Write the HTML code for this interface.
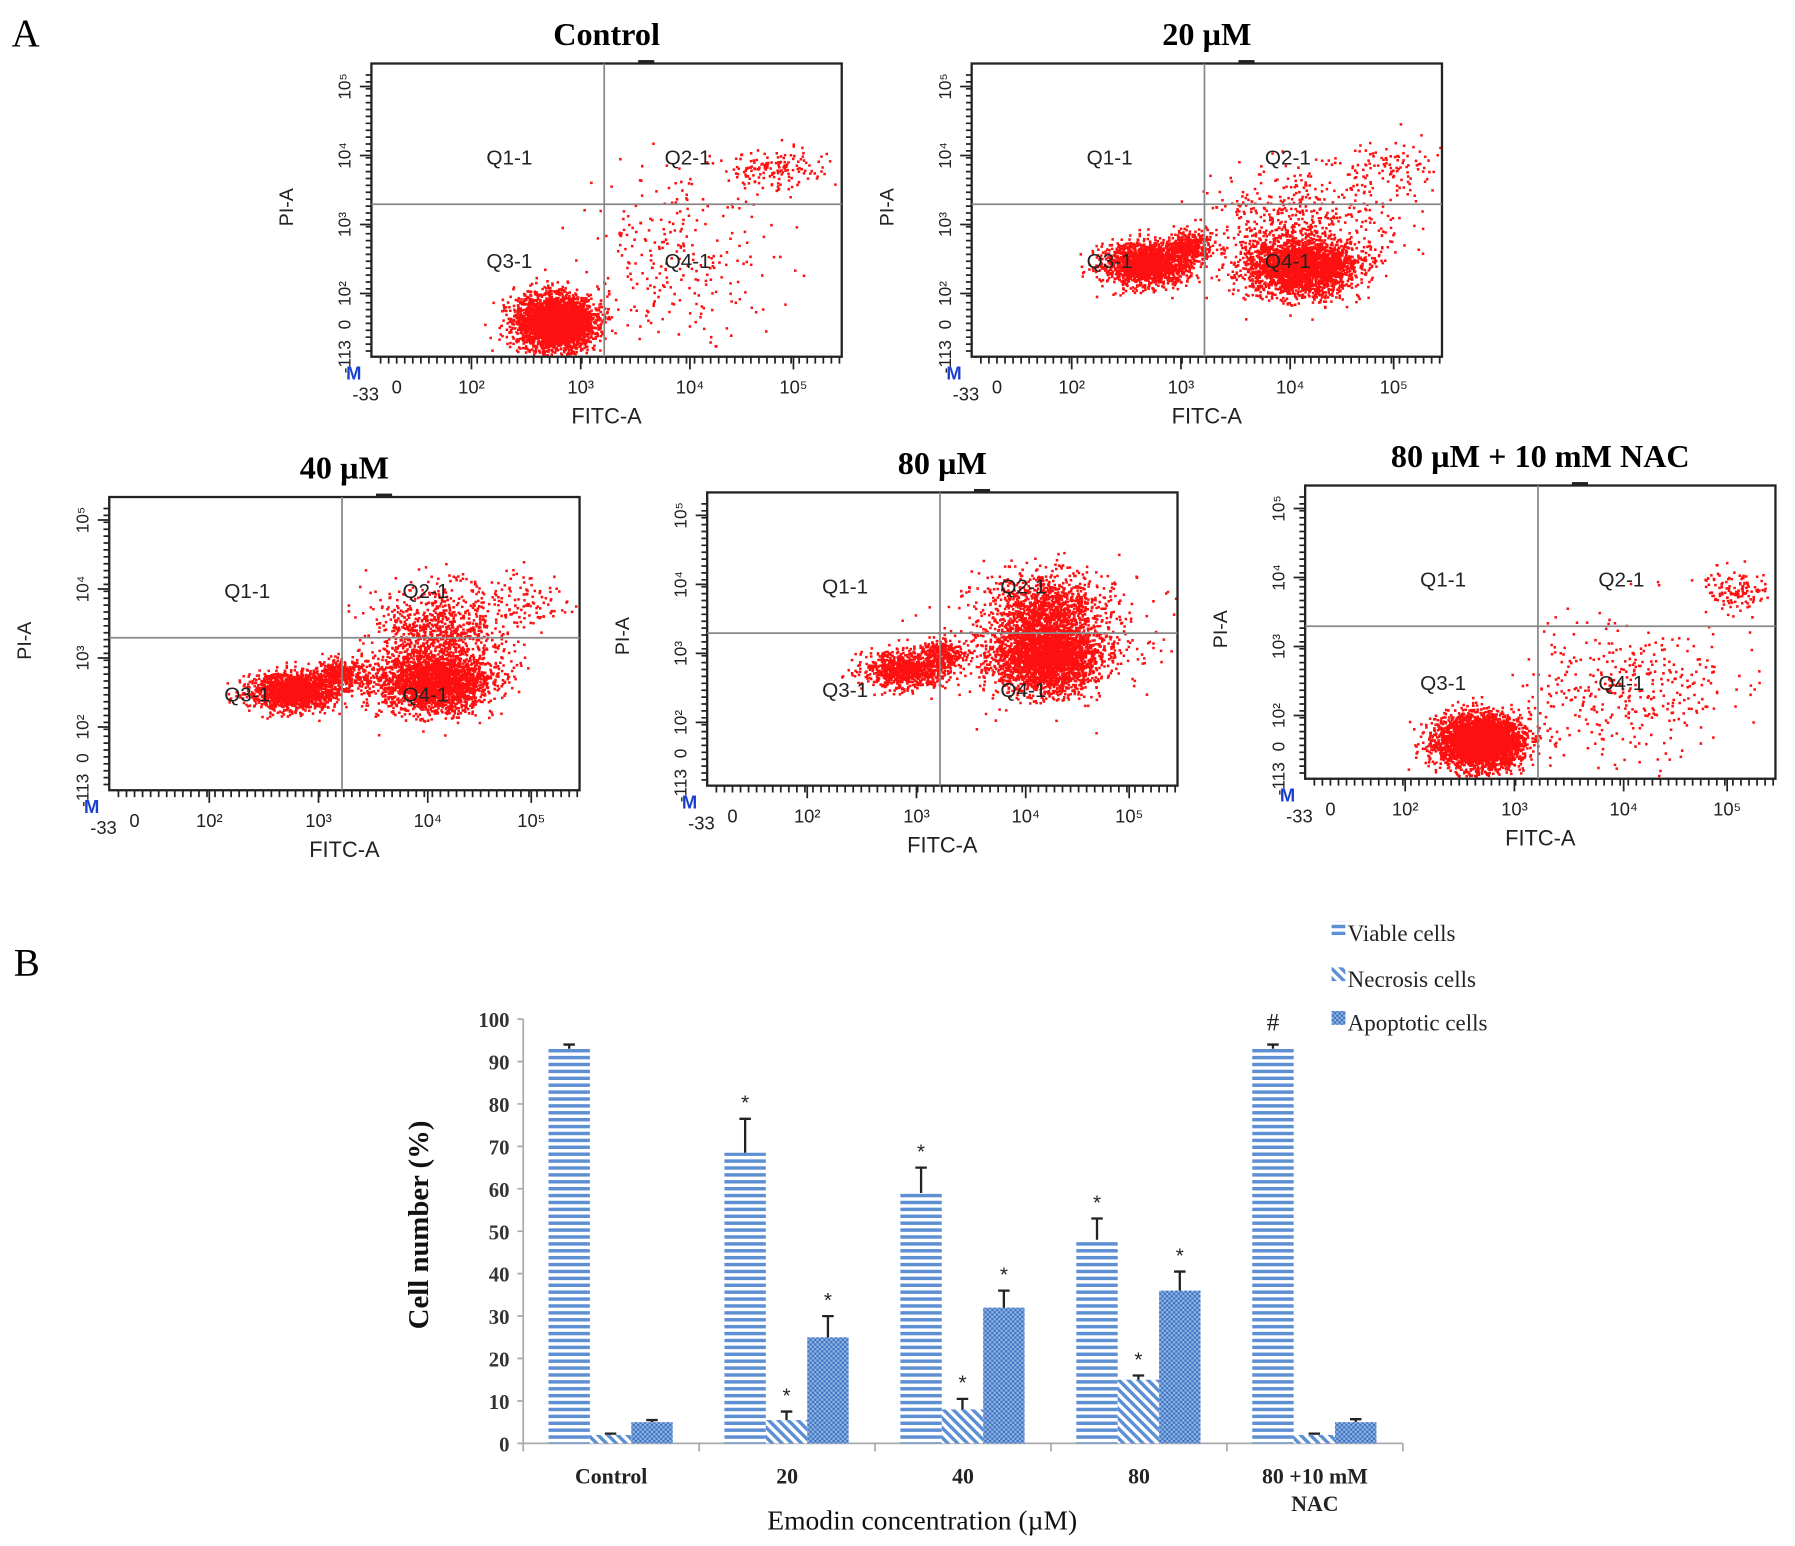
<!DOCTYPE html>
<html><head><meta charset="utf-8"><style>
html,body{margin:0;padding:0;background:#fff}
svg{display:block}
</style></head><body>
<svg id="fig" width="1795" height="1546" viewBox="0 0 1561 1344" xmlns="http://www.w3.org/2000/svg">
<defs>
<pattern id="pH" width="6" height="6" patternUnits="userSpaceOnUse"><rect width="6" height="6" fill="#fff"/><rect width="6" height="3" fill="#5d8fd3"/></pattern>
<pattern id="pD" width="6" height="6" patternUnits="userSpaceOnUse" patternTransform="rotate(-45)"><rect width="6" height="6" fill="#fff"/><rect width="3" height="6" fill="#5d8fd3"/></pattern>
<pattern id="pX" width="4" height="4" patternUnits="userSpaceOnUse"><rect width="4" height="4" fill="#8fb3e3"/><rect width="2" height="2" fill="#3f74c2"/><rect x="2" y="2" width="2" height="2" fill="#3f74c2"/></pattern>
</defs>
<g id="flow"></g>
<g id="bars"></g>
<text x="10" y="40" font-family="Liberation Serif" font-size="34">A</text>
<text x="12" y="848" font-family="Liberation Serif" font-size="34">B</text>
</svg>
<script>
// ---- bar chart data ----
const categories = ["Control","20","40","80","80 +10 mM|NAC"];
const viable = [93, 68.5, 59, 48, 93];
const viableErr = [94, 76.5, 65, 53, 94];
const necrosis = [2, 5.5, 8, 15, 2];
const necrosisErr = [2.3, 7.5, 10.5, 16, 2.3];
const apoptotic = [5, 25, 32, 36, 5];
const apoptoticErr = [5.5, 30, 36, 40.5, 5.7];
const yTicks = [0,10,20,30,40,50,60,70,80,90,100];
const starsViable = [false,true,true,true,false];
const starsOther = [false,true,true,true,false];

// ---- flow panels (cluster parameters) ----
const panelTitles = ["Control","20 µM","40 µM","80 µM","80 µM + 10 mM NAC"];
const panelBoxes = [[323,55],[845,55],[95,432],[615,428],[1135,422]];
const panelClusters = [
 [[0.39,0.88,0.04,0.045,3500],[0.66,0.65,0.1,0.14,260],[0.86,0.36,0.05,0.035,150]],
 [[0.37,0.68,0.045,0.035,1800],[0.46,0.62,0.025,0.025,400],[0.7,0.69,0.06,0.05,2500],[0.7,0.52,0.1,0.08,450],[0.9,0.35,0.05,0.05,100]],
 [[0.39,0.66,0.045,0.03,1700],[0.49,0.6,0.03,0.025,400],[0.69,0.63,0.06,0.05,2300],[0.7,0.46,0.07,0.08,900],[0.88,0.35,0.05,0.05,100]],
 [[0.42,0.6,0.045,0.03,900],[0.5,0.55,0.025,0.025,300],[0.72,0.56,0.055,0.06,2600],[0.72,0.39,0.06,0.06,1000],[0.72,0.5,0.12,0.1,400]],
 [[0.37,0.87,0.045,0.045,3500],[0.68,0.7,0.11,0.12,380],[0.92,0.35,0.035,0.035,130]]
];

const NS="http://www.w3.org/2000/svg";
function mk(tag, attrs, parent){const e=document.createElementNS(NS,tag);for(const k in attrs)e.setAttribute(k,attrs[k]);parent.appendChild(e);return e;}
let seed=12345;function rnd(){seed=(seed*1103515245+12345)%2147483648;return seed/2147483648;}
function gauss(){let u=rnd()||1e-6,v=rnd();return Math.sqrt(-2*Math.log(u))*Math.cos(2*Math.PI*v);}

const flow=document.getElementById('flow');
const W=409,H=255;
panelBoxes.forEach((b,pi)=>{
  const L=b[0],T=b[1];
  const g=mk('g',{},flow);
  
  
  const t=mk('text',{x:L+W/2,y:T-16,'text-anchor':'middle','font-family':'Liberation Serif','font-weight':'bold','font-size':28},g);
  t.textContent=panelTitles[pi];
  
  
  let d='';
  panelClusters[pi].forEach(c=>{
    for(let i=0;i<c[4];i++){
      const x=L+W*(c[0]+c[2]*gauss()), y=T+H*(c[1]+c[3]*gauss());
      if(x<L+2||x>L+W-2||y<T+2||y>T+H-2)continue;
      d+='M'+x.toFixed(1)+' '+y.toFixed(1)+'h2.2v2.2h-2.2z';
    }
  });
  const dots=mk('path',{d:d,fill:'#ff1010'},g);
  
  
  const box=mk('rect',{x:L,y:T,width:W,height:H,fill:'none',stroke:'#222','stroke-width':2},g);
  
  
  mk('rect',{x:L+232,y:T-3,width:14,height:3,fill:'#222'},g);
  mk('line',{x1:L+W*0.495,y1:T,x2:L+W*0.495,y2:T+H,stroke:'#888','stroke-width':1.5},g);
  mk('line',{x1:L,y1:T+H*0.48,x2:L+W,y2:T+H*0.48,stroke:'#888','stroke-width':1.5},g);
  [["Q1-1",120,88],["Q2-1",275,88],["Q3-1",120,178],["Q4-1",275,178]].forEach(q=>{
    const e=mk('text',{x:L+q[1],y:T+q[2],'text-anchor':'middle','font-family':'Liberation Sans','font-size':18,fill:'#222'},g);e.textContent=q[0];
    
    
  });
  let tk='';
  for(let y=T+10;y<T+H;y+=6)tk+='M'+(L-5)+' '+y+'h5';
  for(let x=L+8;x<L+W;x+=7)tk+='M'+x+' '+(T+H)+'v6';
  [20,80,140,200].forEach(y=>tk+='M'+(L-10)+' '+(T+y)+'h10');
  [87,182,277,367].forEach(x=>tk+='M'+(L+x)+' '+(T+H)+'v11');
  mk('path',{d:tk,stroke:'#222','stroke-width':1.5},g);
  const yl=[["10⁵",20],["10⁴",80],["10³",140],["10²",200],["0",227],["-113",255]];
  yl.forEach(v=>{const e=mk('text',{x:0,y:0,transform:`translate(${L-18},${T+v[1]}) rotate(-90)`,'text-anchor':'middle','font-family':'Liberation Sans','font-size':15,fill:'#222'},g);e.textContent=v[0];});
  const xl=[["-33",-5,38],["0",22,32],["10²",87,32],["10³",182,32],["10⁴",277,32],["10⁵",367,32]];
  xl.forEach(v=>{const e=mk('text',{x:L+v[1],y:T+H+v[2],'text-anchor':'middle','font-family':'Liberation Sans','font-size':16,fill:'#222'},g);e.textContent=v[0];});
  const m=mk('text',{x:L-22,y:T+H+20,'font-family':'Liberation Sans','font-weight':'bold','font-size':16,fill:'#1a3fd0'},g);m.textContent='M';
  const fx=mk('text',{x:L+W/2,y:T+H+58,'text-anchor':'middle','font-family':'Liberation Sans','font-size':19,fill:'#222'},g);fx.textContent='FITC-A';
  const py=mk('text',{x:0,y:0,transform:`translate(${L-68},${T+H*0.49}) rotate(-90)`,'text-anchor':'middle','font-family':'Liberation Sans','font-size':17,fill:'#222'},g);py.textContent='PI-A';
});

// ---- bar chart ----
const bars=document.getElementById('bars');
const AX=455, AR=1220, Y0=1255, Y100=886;
const yS=v=>Y0-(Y0-Y100)*v/100;
const catW=(AR-AX)/categories.length;
const bw=36, off=22;
const axis=mk('path',{d:`M${AX} ${Y100}V${Y0}H${AR}`,stroke:'#aaa','stroke-width':1.5,fill:'none'},bars);


let tks='';
yTicks.forEach(v=>{tks+=`M${AX-5} ${yS(v)}h5`;
  const e=mk('text',{x:AX-12,y:yS(v)+7,'text-anchor':'end','font-family':'Liberation Serif','font-weight':'bold','font-size':18,fill:'#333'},bars);
  e.textContent=v;
  
  
});
for(let i=0;i<=categories.length;i++)tks+=`M${AX+i*catW} ${Y0}v7`;
mk('path',{d:tks,stroke:'#aaa','stroke-width':1.5},bars);
const series=[[viable,viableErr,'url(#pH)','viable'],[necrosis,necrosisErr,'url(#pD)','necrosis'],[apoptotic,apoptoticErr,'url(#pX)','apoptotic']];
categories.forEach((c,i)=>{
  const x0=AX+i*catW+off;
  series.forEach((s,j)=>{
    const x=x0+j*bw, v=s[0][i], e=s[1][i];
    const r=mk('rect',{x:x,y:yS(v),width:bw,height:Y0-yS(v),fill:s[2]},bars);
    
    
    const cx=x+bw/2;
    mk('path',{d:`M${cx} ${yS(v)}V${yS(e)}M${cx-5} ${yS(e)}h10`,stroke:'#222','stroke-width':2},bars);
    const star = j===0?starsViable[i]:starsOther[i];
    if(star){const st=mk('text',{x:cx,y:yS(e)-8,'text-anchor':'middle','font-family':'Liberation Sans','font-size':18,fill:'#222'},bars);st.textContent='*';}
  });
  const lines=c.split('|');
  lines.forEach((ln,k)=>{
    const t=mk('text',{x:AX+i*catW+catW/2,y:1290+k*24,'text-anchor':'middle','font-family':'Liberation Serif','font-weight':'bold','font-size':19,fill:'#222'},bars);
    t.textContent=ln;
    
    
  });
});
const hs=mk('text',{x:AX+4*catW+off+bw/2,y:yS(viableErr[4])-12,'text-anchor':'middle','font-family':'Liberation Serif','font-size':22,fill:'#222'},bars);hs.textContent='#';
const yt=mk('text',{x:0,y:0,transform:'translate(372,1065) rotate(-90)','text-anchor':'middle','font-family':'Liberation Serif','font-weight':'bold','font-size':25,fill:'#111'},bars);
yt.textContent='Cell number (%)';


const xt=mk('text',{x:802,y:1330,'text-anchor':'middle','font-family':'Liberation Serif','font-size':24,fill:'#111'},bars);
xt.textContent='Emodin concentration (µM)';


[["Viable cells",'url(#pH)',812],["Necrosis cells",'url(#pD)',852],["Apoptotic cells",'url(#pX)',890]].forEach(l=>{
  const g=mk('g',{},bars);
  
  
  mk('rect',{x:1158,y:l[2]-11,width:12,height:12,fill:l[1]},g);
  const t=mk('text',{x:1172,y:l[2]+6,'font-family':'Liberation Serif','font-size':20,fill:'#222'},g);t.textContent=l[0];
});
</script>
</body></html>
